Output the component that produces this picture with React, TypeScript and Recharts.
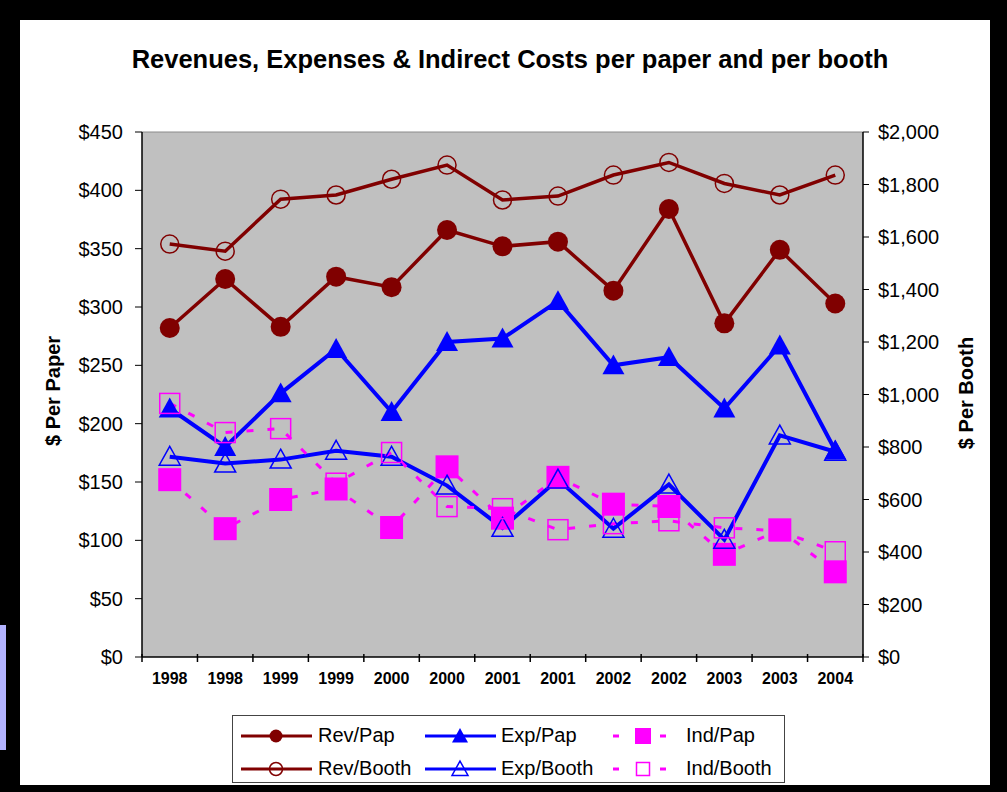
import React from "react";
import {
  CartesianGrid,
  ComposedChart,
  Legend,
  Line,
  ReferenceLine,
  XAxis,
  YAxis,
} from "recharts";

// 연도 (반기별 두 번씩)
const YEARS = [
  "1998", "1998", "1999", "1999", "2000", "2000", "2001",
  "2001", "2002", "2002", "2003", "2003", "2004",
];

// $ per paper (left axis)
const REV_PAP = [282, 324, 283, 326, 317, 366, 352, 356, 314, 384, 286, 349, 303];
const EXP_PAP = [213, 180, 226, 264, 210, 270, 273, 305, 250, 257, 213, 267, 177];
const IND_PAP = [152, 110, 135, 144, 111, 163, 119, 154, 131, 129, 88, 109, 73];

// $ per booth (right axis)
const REV_BOOTH = [1573, 1546, 1744, 1760, 1820, 1874, 1741, 1756, 1836, 1884, 1804, 1760, 1836];
const EXP_BOOTH = [763, 737, 752, 786, 763, 653, 492, 676, 489, 657, 447, 844, 782];
const IND_BOOTH = [966, 855, 870, 662, 779, 573, 565, 485, 508, 519, 492, 481, 401];

const PAP_TICKS = [0, 50, 100, 150, 200, 250, 300, 350, 400, 450];
const BOOTH_TICKS = [0, 200, 400, 600, 800, 1000, 1200, 1400, 1600, 1800, 2000];

const COLORS = {
  rev: "#800000",
  exp: "#0000FF",
  ind: "#FF00FF",
  plot: "#C0C0C0",
};

const FONT = '"Liberation Sans", Arial, sans-serif';

// plot area 721px / 13칸 → 칸 절반
const HALF_CELL = 721 / 13 / 2;

const rows = YEARS.map((year, i) => ({
  year,
  revPap: REV_PAP[i],
  expPap: EXP_PAP[i],
  indPap: IND_PAP[i],
  revBooth: REV_BOOTH[i],
  expBooth: EXP_BOOTH[i],
  indBooth: IND_BOOTH[i],
}));

type Shape = "circle" | "triangle" | "square";

function Marker({ shape, cx, cy, color, filled, s }: {
  shape: Shape; cx: number; cy: number; color: string; filled: boolean; s: number;
}) {
  const fill = filled ? color : "none";
  const sw = filled ? 0 : 1.5;
  if (shape === "circle") {
    return <circle cx={cx} cy={cy} r={s / 2} fill={fill} stroke={color} strokeWidth={sw} />;
  }
  if (shape === "triangle") {
    const h = s * 0.9;
    const pts = `${cx},${cy - h * 0.55} ${cx + s / 2},${cy + h * 0.45} ${cx - s / 2},${cy + h * 0.45}`;
    return <polygon points={pts} fill={fill} stroke={color} strokeWidth={sw} />;
  }
  return <rect x={cx - s / 2} y={cy - s / 2} width={s} height={s} fill={fill} stroke={color} strokeWidth={sw} />;
}

function dotOf(shape: Shape, color: string, filled: boolean, s: number) {
  return (p: any) => (
    <Marker key={`d-${p.index}`} shape={shape} cx={p.cx} cy={p.cy} color={color} filled={filled} s={s} />
  );
}

// x축: 라벨은 칸 가운데, 눈금선은 칸 경계 (엑셀 스타일)
function YearTick(p: any) {
  const last = p.index === YEARS.length - 1;
  const axisY = p.y - 16;
  return (
    <g>
      <line x1={p.x - HALF_CELL} y1={axisY - 3} x2={p.x - HALF_CELL} y2={axisY + 5} stroke="#000" strokeWidth={1.5} />
      {last && (
        <line x1={p.x + HALF_CELL} y1={axisY - 3} x2={p.x + HALF_CELL} y2={axisY + 5} stroke="#000" strokeWidth={1.5} />
      )}
      <text
        x={p.x}
        y={p.y}
        dy="0.71em"
        textAnchor="middle"
        fontFamily={FONT}
        fontSize={16}
        fontWeight={700}
        fill="#000"
      >
        {p.payload.value}
      </text>
    </g>
  );
}

const LEGEND_ROWS = [
  [
    { name: "Rev/Pap", shape: "circle" as Shape, color: COLORS.rev, filled: true, dashed: false },
    { name: "Exp/Pap", shape: "triangle" as Shape, color: COLORS.exp, filled: true, dashed: false },
    { name: "Ind/Pap", shape: "square" as Shape, color: COLORS.ind, filled: true, dashed: true },
  ],
  [
    { name: "Rev/Booth", shape: "circle" as Shape, color: COLORS.rev, filled: false, dashed: false },
    { name: "Exp/Booth", shape: "triangle" as Shape, color: COLORS.exp, filled: false, dashed: false },
    { name: "Ind/Booth", shape: "square" as Shape, color: COLORS.ind, filled: false, dashed: true },
  ],
];

const COL_ICON_X = [8, 192, 380];
const COL_TEXT_X = [85, 268, 453];
const ROW_Y = [20, 53];

function LegendBox() {
  return (
    <div
      style={{
        position: "relative",
        width: 551,
        height: 66,
        border: "1px solid #444",
        background: "#fff",
        fontFamily: FONT,
        fontSize: 20,
        color: "#000",
      }}
    >
      {LEGEND_ROWS.map((row, r) =>
        row.map((e, c) => {
          const markSize = e.shape === "circle" ? 13 : e.shape === "triangle" ? 16 : e.filled ? 16 : 13;
          return (
            <React.Fragment key={e.name}>
              <svg
                width={72}
                height={24}
                style={{ position: "absolute", left: COL_ICON_X[c], top: ROW_Y[r] - 12 }}
              >
                {e.dashed ? (
                  <>
                    <line x1={0} y1={12} x2={6} y2={12} stroke={e.color} strokeWidth={3} />
                    <line x1={47} y1={12} x2={53} y2={12} stroke={e.color} strokeWidth={3} />
                    <Marker shape={e.shape} cx={30} cy={12} color={e.color} filled={e.filled} s={markSize} />
                  </>
                ) : (
                  <>
                    <line x1={0} y1={12} x2={71} y2={12} stroke={e.color} strokeWidth={3} />
                    <Marker shape={e.shape} cx={35} cy={12} color={e.color} filled={e.filled} s={markSize} />
                  </>
                )}
              </svg>
              <span
                style={{
                  position: "absolute",
                  left: COL_TEXT_X[c],
                  top: ROW_Y[r] - 12,
                  lineHeight: "23px",
                  whiteSpace: "nowrap",
                }}
              >
                {e.name}
              </span>
            </React.Fragment>
          );
        })
      )}
    </div>
  );
}

export default function App() {
  const tickStyle = { fill: "#000", fontSize: 20, fontFamily: FONT };
  return (
    <div
      style={{
        position: "absolute",
        left: 0,
        top: 0,
        width: 1007,
        height: 792,
        background: "#000",
        overflow: "hidden",
        fontFamily: FONT,
      }}
    >
      <div style={{ position: "absolute", left: 0, top: 625, width: 6, height: 125, background: "#B3B3FF" }} />
      <div style={{ position: "absolute", left: 20, top: 20, width: 970, height: 765, background: "#fff" }} />

      <div style={{ position: "absolute", left: 0, top: 0 }}>
        <ComposedChart
          width={1007}
          height={792}
          data={rows}
          margin={{ top: 132, right: 54, bottom: 95, left: 82 }}
        >
          <CartesianGrid fill={COLORS.plot} fillOpacity={1} horizontal={false} vertical={false} yAxisId="pap" />
          <XAxis
            dataKey="year"
            interval={0}
            height={40}
            padding={{ left: HALF_CELL, right: HALF_CELL }}
            tickSize={0}
            tickMargin={16}
            tickLine={false}
            axisLine={{ stroke: "#000", strokeWidth: 1.5 }}
            tick={<YearTick />}
          />
          <YAxis
            yAxisId="pap"
            orientation="left"
            width={60}
            domain={[0, 450]}
            ticks={PAP_TICKS}
            interval={0}
            tickFormatter={(v: number) => `$${v}`}
            tickSize={7}
            tickMargin={12}
            tick={tickStyle}
            axisLine={{ stroke: "#000", strokeWidth: 1.5 }}
            tickLine={{ stroke: "#000" }}
          />
          <YAxis
            yAxisId="booth"
            orientation="right"
            width={90}
            domain={[0, 2000]}
            ticks={BOOTH_TICKS}
            interval={0}
            tickFormatter={(v: number) => `$${v.toLocaleString("en-US")}`}
            tickSize={6}
            tickMargin={9}
            tick={tickStyle}
            axisLine={{ stroke: "#000", strokeWidth: 1.5 }}
            tickLine={{ stroke: "#000" }}
          />
          <ReferenceLine yAxisId="pap" y={450} stroke="#8a8a8a" strokeWidth={1} />

          <Line
            yAxisId="pap" dataKey="revPap" name="Rev/Pap" type="linear"
            stroke={COLORS.rev} strokeWidth={3.5} dot={dotOf("circle", COLORS.rev, true, 20)}
            activeDot={false} isAnimationActive={false}
          />
          <Line
            yAxisId="pap" dataKey="expPap" name="Exp/Pap" type="linear"
            stroke={COLORS.exp} strokeWidth={4} dot={dotOf("triangle", COLORS.exp, true, 22)}
            activeDot={false} isAnimationActive={false}
          />
          <Line
            yAxisId="pap" dataKey="indPap" name="Ind/Pap" type="linear"
            stroke={COLORS.ind} strokeWidth={3} strokeDasharray="7 14"
            dot={dotOf("square", COLORS.ind, true, 23)}
            activeDot={false} isAnimationActive={false}
          />
          <Line
            yAxisId="booth" dataKey="revBooth" name="Rev/Booth" type="linear"
            stroke={COLORS.rev} strokeWidth={3.5} dot={dotOf("circle", COLORS.rev, false, 18)}
            activeDot={false} isAnimationActive={false}
          />
          <Line
            yAxisId="booth" dataKey="expBooth" name="Exp/Booth" type="linear"
            stroke={COLORS.exp} strokeWidth={4} dot={dotOf("triangle", COLORS.exp, false, 21)}
            activeDot={false} isAnimationActive={false}
          />
          <Line
            yAxisId="booth" dataKey="indBooth" name="Ind/Booth" type="linear"
            stroke={COLORS.ind} strokeWidth={3} strokeDasharray="7 14"
            dot={dotOf("square", COLORS.ind, false, 20)}
            activeDot={false} isAnimationActive={false}
          />

          <Legend
            layout="horizontal"
            verticalAlign="middle"
            align="center"
            content={() => <LegendBox />}
            wrapperStyle={{ left: 232, top: 715, width: 553, height: 68 }}
          />
        </ComposedChart>
      </div>

      <svg
        width={1007}
        height={792}
        style={{ position: "absolute", left: 0, top: 0, pointerEvents: "none" }}
      >
        <text x={510} y={68} textAnchor="middle" fontFamily={FONT} fontWeight={700} fontSize={25.5} fill="#000">
          Revenues, Expenses &amp; Indirect Costs per paper and per booth
        </text>
        <text
          transform="translate(53,391) rotate(-90)"
          textAnchor="middle"
          dy="0.35em"
          fontFamily={FONT}
          fontWeight={700}
          fontSize={20}
          fill="#000"
        >
          $ Per Paper
        </text>
        <text
          transform="translate(966,393) rotate(-90)"
          textAnchor="middle"
          dy="0.35em"
          fontFamily={FONT}
          fontWeight={700}
          fontSize={20}
          fill="#000"
        >
          $ Per Booth
        </text>
      </svg>
    </div>
  );
}
